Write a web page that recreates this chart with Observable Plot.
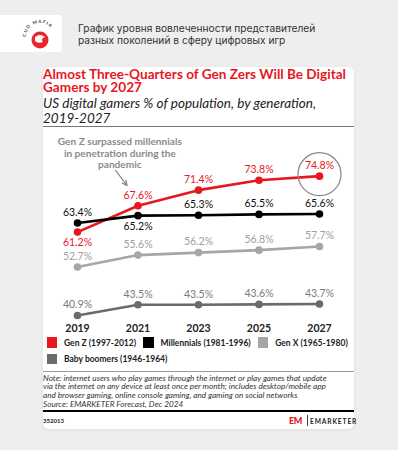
<!DOCTYPE html>
<html>
<head>
<meta charset="utf-8">
<script src="https://cdn.jsdelivr.net/npm/d3@7"></script>
<script src="https://cdn.jsdelivr.net/npm/@observablehq/plot@0.6"></script>
<style>
  html, body { margin: 0; padding: 0; }
  body { width: 398px; height: 450px; background: #eeeeee; position: relative; overflow: hidden; font-family: Lato, "Open Sans", sans-serif; }
  .abs { position: absolute; }
  #logoBox { left: 0; top: 15px; width: 62px; height: 37px; background: #fff; border-radius: 0 3px 3px 0; }
  #head { left: 78px; top: 22px; font-size: 10.2px; line-height: 12px; color: #333; font-family: Inter, sans-serif; white-space: nowrap; }
  #card { left: 43px; top: 67px; width: 311px; height: 362px; background: #fff; border-radius: 6px; box-shadow: 0 1px 4px rgba(0,0,0,0.06); }
  #title { left: 43px; top: 67.5px; width: 311px; color: #e8161f; font-weight: 700; font-size: 13.6px; line-height: 13.4px; }
  #subtitle { left: 43px; top: 95.5px; width: 320px; color: #222; font-style: italic; font-size: 13.5px; line-height: 15.5px; font-weight: 400; white-space: nowrap; }
  #rule1 { left: 43px; top: 126px; width: 311px; height: 1px; background: #777; }
  #chart { left: 43px; top: 130px; }
  #legend { left: 46.5px; top: 337px; width: 320px; font-size: 8.5px; font-weight: 700; color: #222; }
  .row { display: flex; height: 11px; margin-bottom: 5.5px; white-space: nowrap; }
  .item { display: inline-flex; align-items: center; margin-right: 7px; }
  .sw { width: 10.5px; height: 10.5px; margin-right: 7px; display: inline-block; }
  #rule2 { left: 43px; top: 371px; width: 311px; height: 1.3px; background: #999; }
  #note { left: 43px; top: 373.5px; width: 320px; font-size: 8.2px; line-height: 8.7px; font-style: italic; color: #333; white-space: nowrap; }
  #rule3 { left: 43px; top: 409.5px; width: 311px; height: 2.6px; background: #000; }
  #code { left: 43px; top: 417px; font-size: 6px; font-weight: 700; color: #222; }
  #em { left: 289px; top: 415px; font-size: 9px; font-weight: 900; color: #e8161f; letter-spacing: -0.5px; }
  #emsep { left: 306.5px; top: 415px; width: 0.8px; height: 11px; background: #444; }
  #emtext { left: 310px; top: 417px; font-size: 6.6px; font-weight: 700; color: #222; letter-spacing: 0.9px; }
</style>
</head>
<body>
<div id="logoBox" class="abs">
  <svg width="62" height="37">
    <defs><path id="arc" d="M26,22 A14,14 0 0 1 54,22"/></defs>
    <text font-size="4.5" font-weight="700" fill="#444" letter-spacing="1"><textPath href="#arc">CUD MAFIA</textPath></text>
    <circle cx="40" cy="25" r="8.5" fill="#e8262b"/>
    <path d="M35,22 q5,-4 10,0 q-5,2 -2,5 q-5,2 -8,-1" fill="#fff"/>
  </svg>
</div>
<div id="head" class="abs">График уровня вовлеченности представителей<br>разных поколений в сферу цифровых игр</div>
<div id="card" class="abs"></div>
<div id="title" class="abs">Almost Three-Quarters of Gen Zers Will Be Digital Gamers by 2027</div>
<div id="subtitle" class="abs">US digital gamers % of population, by generation,<br>2019-2027</div>
<div id="rule1" class="abs"></div>
<div id="chart" class="abs"></div>
<div id="legend" class="abs"></div>
<div id="rule2" class="abs"></div>
<div id="note" class="abs">Note: internet users who play games through the internet or play games that update<br>via the internet on any device at least once per month; includes desktop/mobile app<br>and browser gaming, online console gaming, and gaming on social networks<br>Source: EMARKETER Forecast, Dec 2024</div>
<div id="rule3" class="abs"></div>
<div id="code" class="abs">352013</div>
<div id="em" class="abs">EM</div>
<div id="emsep" class="abs"></div>
<div id="emtext" class="abs">EMARKETER</div>
<script>
const years = [2019, 2021, 2023, 2025, 2027];
const seriesNames = ["Gen Z (1997-2012)", "Millennials (1981-1996)", "Gen X (1965-1980)", "Baby boomers (1946-1964)"];
const genZ = [61.2, 67.6, 71.4, 73.8, 74.8];
const millennials = [63.4, 65.2, 65.3, 65.5, 65.6];
const genX = [52.7, 55.6, 56.2, 56.8, 57.7];
const boomers = [40.9, 43.5, 43.5, 43.6, 43.7];
const annotationText = "Gen Z surpassed millennials\nin penetration during the\npandemic";

const colors = ["#e8161f", "#000000", "#a6a6a6", "#6b6b6b"];
const labelColors = ["#e8161f", "#111111", "#a0a0a0", "#7a7a7a"];
const labelWeights = ["700", "700", "500", "500"];
const allValues = [genZ, millennials, genX, boomers];

const data = [];
allValues.forEach((vals, si) => {
  vals.forEach((v, i) => {
    let below = false;
    if (si < 2) {
      const other = allValues[1 - si][i];
      if (v < other && other - v < 4) below = true;
    }
    data.push({series: seriesNames[si], si, year: years[i], value: v, below});
  });
});

const lbl = (filterFn, dy) => Plot.text(data.filter(filterFn), {
  x: "year", y: "value", text: d => d.value.toFixed(1) + "%",
  dy, fill: d => labelColors[d.si], fontWeight: d => labelWeights[d.si], fontSize: 10.5
});

const annot = [{x: 2020.4, y: 84.2, text: annotationText}];
const arrowData = [{x1: 2020.26, y1: 76.2, x2: 2020.64, y2: 72.5}];

const chart = Plot.plot({
  width: 311, height: 205,
  marginLeft: 34, marginRight: 35, marginTop: 24.3, marginBottom: 16.3,
  style: {fontFamily: "Lato, sans-serif", overflow: "visible"},
  x: {domain: [2019, 2027], label: null},
  y: {domain: [40, 80], axis: null},
  color: {domain: seriesNames, range: colors},
  marks: [
    Plot.axisX({ticks: years, tickFormat: "d", tickSize: 0, tickPadding: 5, fontSize: 10.5, fontWeight: 700, fill: "#222", label: null}),
    Plot.line(data, {x: "year", y: "value", z: "series", stroke: "series", strokeWidth: 2.6}),
    Plot.dot(data, {x: "year", y: "value", fill: "series", r: 3.8}),
    lbl(d => !d.below, -10.5),
    lbl(d => d.below, 10.5),
    Plot.dot([{year: years[4], value: genZ[4]}], {x: "year", y: "value", r: 21.5, stroke: "#888", strokeWidth: 1.2, fill: "none", dy: -2}),
    Plot.text(annot, {x: "x", y: "y", text: "text", textAnchor: "middle", lineAnchor: "top", fill: "#8a8a8a", fontWeight: 700, fontSize: 10.1, lineHeight: 1.1}),
    Plot.arrow(arrowData, {x1: "x1", y1: "y1", x2: "x2", y2: "y2", stroke: "#888", strokeWidth: 1.2, headLength: 7, headAngle: 50})
  ]
});
document.getElementById("chart").appendChild(chart);

const legend = document.getElementById("legend");
const rows = [[0, 1, 2], [3]];
rows.forEach(r => {
  const row = document.createElement("div");
  row.className = "row";
  r.forEach(i => {
    const it = document.createElement("span");
    it.className = "item";
    it.innerHTML = `<span class="sw" style="background:${colors[i]}"></span>${seriesNames[i]}`;
    row.appendChild(it);
  });
  legend.appendChild(row);
});
</script>
</body>
</html>
